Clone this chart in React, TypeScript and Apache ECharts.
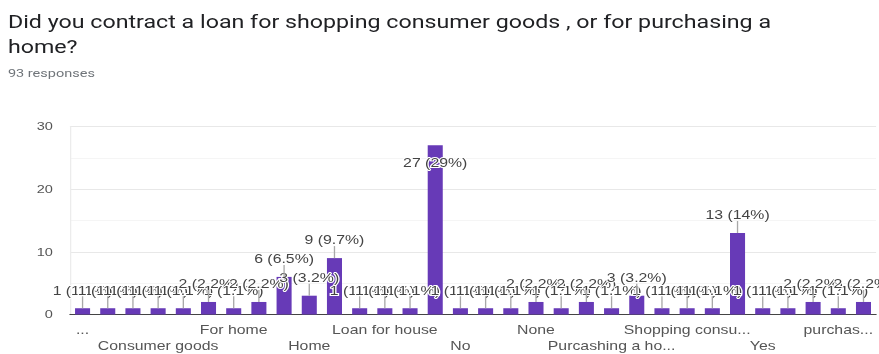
import React, { useEffect, useRef } from "react";
import * as echarts from "echarts";

const TITLE = "Did you contract a loan for shopping consumer goods , or for purchasing a\nhome?";

const categories = [
  "...", "Consumer", "Consumer good", "Consumer goods", "Consumer goods ", "Consumer goods.",
  "For home", "For house", "For purchasing a home", "Home", "House", "Loan",
  "Loan for house", "Loan for housing", "Neither", "No", "No loan", "Non",
  "None", "Nope", "Not yet", "Purcashing a home", "Purchasing a home", "Shopping",
  "Shopping consumer goods", "Shopping for consumer goods", "The first one", "Yes", "Yes, for home", "consumer goods",
  "purchasing a home", "shopping",
];

const counts = [
  1, 1, 1, 1, 1, 2,
  1, 2, 6, 3, 9, 1,
  1, 1, 27, 1, 1, 1,
  2, 1, 2, 1, 3, 1,
  1, 1, 13, 1, 1, 2,
  1, 2,
];

const tickLabels = [
  "...", "", "", "Consumer goods", "", "",
  "For home", "", "", "Home", "", "",
  "Loan for house", "", "", "No", "", "",
  "None", "", "", "Purcashing a ho...", "", "",
  "Shopping consu...", "", "", "Yes", "", "",
  "purchas...", "",
];

const yMin = 0;
const yMax = 30;
const yInterval = 10;

const STRETCH = 1.32;
const W = 879;
const H = 354;
const FONT = "Arial, 'Liberation Sans', sans-serif";

export default function App() {
  const ref = useRef<HTMLDivElement>(null);
  useEffect(() => {
    const chart = echarts.init(ref.current!, null, { renderer: "svg" });
    const total = counts.reduce((a, b) => a + b, 0);
    const maxV = Math.max(...counts);
    const pct = (v: number) => `${Number(((v / total) * 100).toPrecision(2))}%`;
    chart.setOption({
      animation: false,
      title: [
        {
          text: TITLE,
          left: 6,
          top: 10,
          padding: 0,
          textStyle: { fontFamily: "Roboto", fontSize: 17.6, fontWeight: "normal", color: "#202124", lineHeight: 24.5 },
        },
        {
          text: `${total} responses`,
          left: 6,
          top: 68,
          padding: 0,
          textStyle: { fontFamily: "Roboto", fontSize: 11, fontWeight: "normal", color: "#70757a" },
        },
      ],
      grid: { left: 53, right: 2.3, top: 126.5, bottom: 36.5 },
      xAxis: {
        type: "category",
        data: categories,
        axisTick: { show: false },
        axisLine: { lineStyle: { color: "#444", width: 1 } },
        axisLabel: {
          interval: 0,
          hideOverlap: false,
          margin: 7.5,
          color: "#555",
          fontSize: 12,
          lineHeight: 16,
          fontFamily: FONT,
          formatter: (_v: string, i: number) => (i % 6 === 3 ? "\n" + tickLabels[i] : tickLabels[i]),
        },
      },
      yAxis: {
        type: "value",
        min: yMin,
        max: yMax,
        interval: yInterval,
        axisLine: { show: true, lineStyle: { color: "#ececec" } },
        axisTick: { show: false },
        axisLabel: { color: "#555", fontSize: 11, margin: 13, fontFamily: FONT },
        splitLine: { lineStyle: { color: "#e8e8e8" } },
        minorTick: { show: false, splitNumber: 2 },
        minorSplitLine: { show: true, lineStyle: { color: "#f5f5f5" } },
      },
      series: [
        {
          type: "bar",
          barWidth: 11.4,
          itemStyle: { color: "#673ab7" },
          z: 2,
          label: {
            show: true,
            position: "top",
            distance: 12,
            fontSize: 12,
            fontFamily: FONT,
            color: "#444",
            textBorderColor: "#fff",
            textBorderWidth: 2,
            formatter: (p: any) => `${p.value} (${pct(p.value)})`,
          },
          data: counts.map((v) =>
            v === maxV ? { value: v, label: { position: "insideTop", distance: 11 } } : v
          ),
        },
        {
          type: "custom",
          z: 3,
          silent: true,
          data: counts.map((v, i) => [i, v]),
          renderItem: (_params: any, api: any) => {
            const v = api.value(1);
            if (v >= maxV) return null;
            const [x, yTop] = api.coord([api.value(0), v]);
            return {
              type: "line",
              shape: { x1: x, y1: yTop, x2: x, y2: yTop - 12 },
              style: { stroke: "#a8a8a8", lineWidth: 1 },
            };
          },
        },
      ],
    });
    return () => chart.dispose();
  }, []);
  return (
    <div
      ref={ref}
      style={{
        position: "fixed",
        left: 0,
        top: 0,
        width: W / STRETCH,
        height: H,
        transform: `scaleX(${STRETCH})`,
        transformOrigin: "0 0",
      }}
    />
  );
}
